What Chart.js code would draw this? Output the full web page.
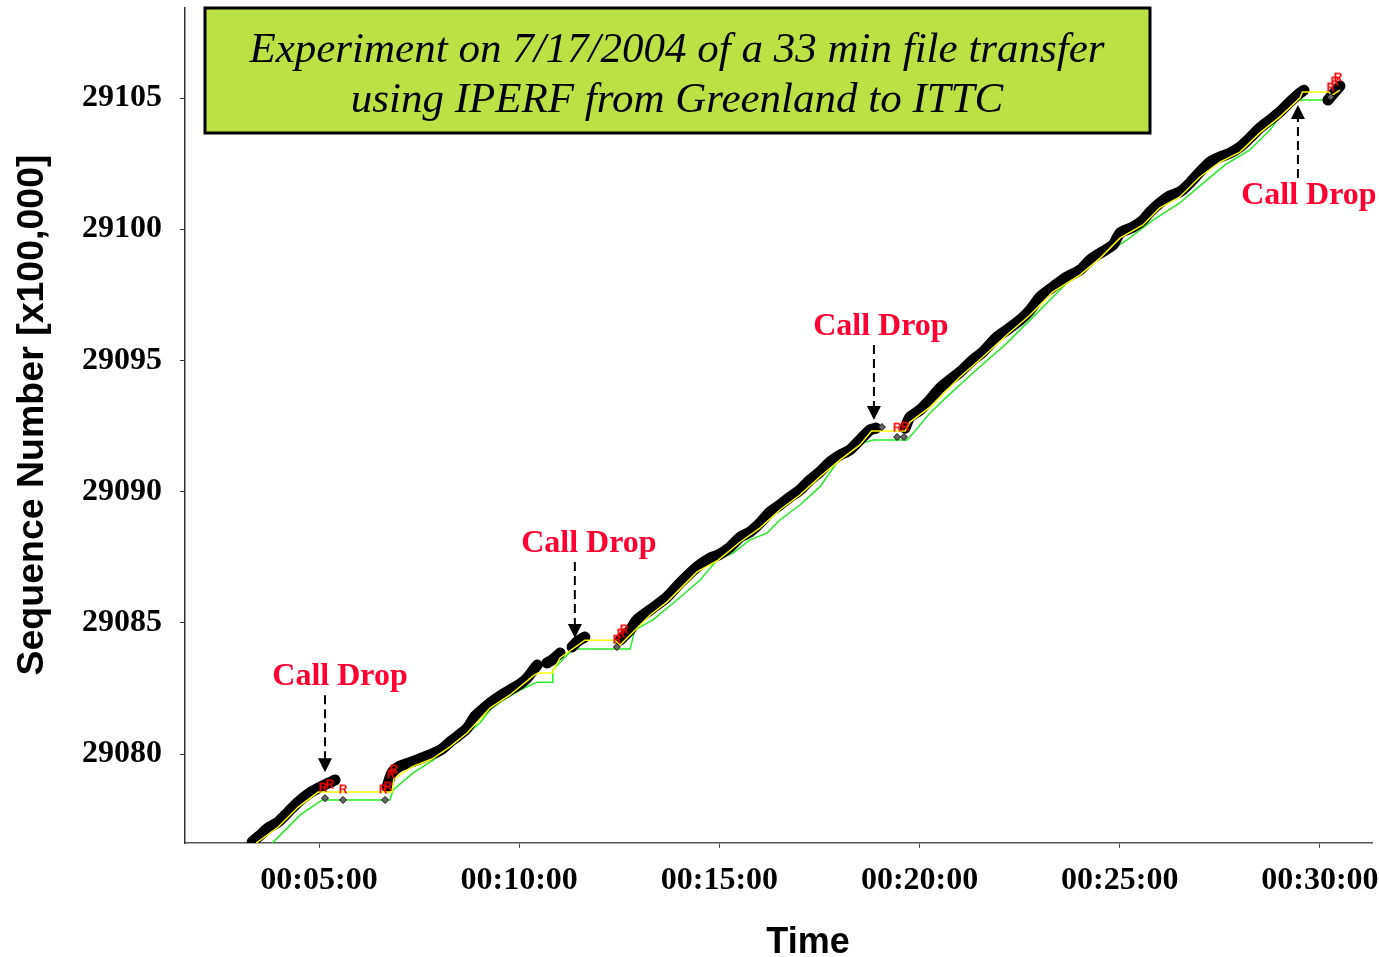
<!DOCTYPE html>
<html>
<head>
<meta charset="utf-8">
<script src="https://cdn.jsdelivr.net/npm/chart.js@4.4.0/dist/chart.umd.min.js"></script>
<style>
html, body { margin: 0; padding: 0; background: #fff; }
canvas { display: block; }
</style>
</head>
<body>
<canvas id="myChart" width="1379" height="957"></canvas>
<script>
// time in minutes, sequence number in units of 100,000
const sentTime = [3.33, 3.53, 3.73, 3.98, 4.23, 4.48, 4.73, 4.98, 5.23, 5.40, 6.0,
  6.70, 6.82, 7.02, 7.32, 7.57, 7.82, 8.07, 8.27, 8.47, 8.70, 8.90, 9.07, 9.27, 9.52, 9.77, 10.02, 10.20, 10.35, 10.45, 10.57,
  10.69, 10.85, 11.02, 11.17,
  11.32, 11.47, 11.64, 12.0,
  12.52, 12.77, 12.94, 13.27, 13.69, 14.02, 14.44, 14.77, 14.97, 15.27, 15.52, 15.76, 16.01, 16.26, 16.51, 16.76, 17.01, 17.26, 17.51, 17.76, 18.01, 18.26, 18.51, 18.76, 18.91, 19.3,
  19.64, 19.76, 20.01, 20.26, 20.51, 21.01, 21.33, 21.58, 21.93, 22.18, 22.51, 22.76, 23.01, 23.33, 23.68, 24.01, 24.26, 24.51, 24.83, 25.01, 25.33, 25.58, 25.76, 26.00, 26.25, 26.50, 26.75, 27.00, 27.25, 27.50, 27.75, 28.00, 28.25, 28.50, 28.75, 29.00, 29.25, 29.50, 29.60, 29.9,
  30.20, 30.35, 30.50];
const sentSeq = [29076.65, 29076.91, 29077.18, 29077.41, 29077.79, 29078.17, 29078.48, 29078.70, 29078.89, 29079.01, null,
  29078.74, 29079.28, 29079.54, 29079.70, 29079.85, 29080.00, 29080.19, 29080.46, 29080.69, 29080.99, 29081.45, 29081.68, 29081.94, 29082.21, 29082.44, 29082.67, 29082.90, 29083.20, 29083.39, null,
  29083.47, 29083.62, 29083.85, null,
  29084.08, 29084.31, 29084.46, null,
  29084.34, 29084.73, 29085.11, 29085.49, 29085.98, 29086.52, 29087.13, 29087.47, 29087.58, 29087.89, 29088.27, 29088.46, 29088.80, 29089.22, 29089.49, 29089.79, 29090.06, 29090.44, 29090.75, 29091.13, 29091.39, 29091.59, 29091.97, 29092.35, 29092.42, null,
  29092.42, 29092.84, 29093.11, 29093.50, 29093.95, 29094.56, 29095.02, 29095.32, 29095.89, 29096.16, 29096.54, 29096.92, 29097.42, 29097.80, 29098.18, 29098.45, 29098.83, 29099.09, 29099.40, 29099.86, 29100.08, 29100.35, 29100.66, 29101.00, 29101.27, 29101.42, 29101.76, 29102.18, 29102.56, 29102.75, 29102.90, 29103.13, 29103.48, 29103.86, 29104.16, 29104.47, 29104.85, 29105.19, 29105.30, null,
  29104.92, 29105.19, 29105.46];

const yellowTime = [3.43, 3.98, 4.48, 4.98, 6.82, 6.87, 7.32, 7.82, 8.27, 8.70, 9.27, 9.77, 10.35, 10.47, 10.82, 11.02, 11.64, 12.39, 12.52, 12.77, 13.27, 13.69, 14.44, 14.97, 15.52, 16.01, 16.51, 17.01, 17.51, 18.01, 18.51, 18.80, 19.64, 19.76, 20.26, 21.01, 21.58, 22.18, 22.76, 23.33, 24.01, 24.51, 25.01, 25.58, 26.00, 26.50, 27.00, 27.50, 28.00, 28.50, 29.00, 29.50, 29.56, 30.22, 30.30, 30.50];
const yellowSeq = [29076.61, 29077.22, 29077.98, 29078.55, 29078.55, 29079.05, 29079.51, 29079.81, 29080.27, 29080.80, 29081.75, 29082.25, 29082.98, 29083.09, 29083.09, 29083.66, 29084.34, 29084.34, 29084.15, 29084.54, 29085.30, 29085.79, 29086.94, 29087.39, 29088.08, 29088.61, 29089.30, 29089.87, 29090.56, 29091.20, 29091.78, 29092.31, 29092.31, 29092.65, 29093.22, 29094.37, 29095.13, 29095.97, 29096.73, 29097.61, 29098.26, 29098.90, 29099.67, 29100.16, 29100.81, 29101.23, 29101.99, 29102.56, 29102.94, 29103.67, 29104.28, 29105.00, 29105.23, 29105.23, 29105.10, 29105.30];

const ackTime = [3.83, 4.03, 4.28, 4.53, 4.78, 5.08, 6.77, 6.85, 7.35, 7.85, 8.20, 8.60, 9.02, 9.27, 9.60, 10.02, 10.45, 10.82, 10.84, 11.34, 12.77, 12.89, 13.34, 13.94, 14.52, 14.94, 15.34, 15.76, 16.19, 16.51, 17.01, 17.51, 17.94, 18.34, 18.59, 18.84, 19.69, 19.84, 20.26, 20.68, 21.33, 22.18, 22.83, 23.33, 23.83, 24.26, 24.68, 25.18, 25.83, 26.50, 27.00, 27.63, 28.25, 28.75, 29.08, 29.43, 30.25, 30.35, 30.50];
const ackSeq = [29076.61, 29076.91, 29077.29, 29077.68, 29077.94, 29078.25, 29078.25, 29078.63, 29079.28, 29079.77, 29080.15, 29080.65, 29081.18, 29081.68, 29082.06, 29082.44, 29082.74, 29082.74, 29083.20, 29084.00, 29084.00, 29084.73, 29085.11, 29085.87, 29086.63, 29087.39, 29087.66, 29088.16, 29088.42, 29088.92, 29089.49, 29090.18, 29091.12, 29091.59, 29091.85, 29091.97, 29091.97, 29092.23, 29093.00, 29093.61, 29094.52, 29095.66, 29096.65, 29097.42, 29098.18, 29098.71, 29099.09, 29099.59, 29100.35, 29101.00, 29101.65, 29102.45, 29103.02, 29103.78, 29104.43, 29104.92, 29104.92, 29105.11, 29105.38];

// retransmissions (R) and duplicate markers around each call drop
const retxTime = [5.10, 5.27, 5.60, 6.60, 6.72, 6.80, 6.87, 12.44, 12.54, 12.62, 19.44, 19.64, 30.27, 30.37, 30.45];
const retxSeq = [29078.70, 29078.82, 29078.63, 29078.63, 29078.74, 29079.20, 29079.39, 29084.34, 29084.57, 29084.73, 29092.42, 29092.46, 29105.38, 29105.61, 29105.76];
const dupTime = [5.15, 5.60, 6.65, 12.44, 19.06, 19.44, 19.61, 30.27];
const dupSeq = [29078.32, 29078.25, 29078.25, 29084.08, 29092.46, 29092.08, 29092.08, 29105.04];

// call drops: arrow tip positions
const dropTime = [5.15, 11.39, 18.86, 29.45];
const dropSeq = [29079.31, 29084.42, 29092.73, 29104.73];
const dropLabel = 'Call Drop';

const xTicks = [5, 10, 15, 20, 25, 30];
const yTicks = [29080, 29085, 29090, 29095, 29100, 29105];

const titleLines = ['Experiment on 7/17/2004 of a 33 min file transfer', 'using IPERF from Greenland to ITTC'];
const xTitle = 'Time';
const yTitle = 'Sequence Number [x100,000]';

function pts(xs, ys) {
  return xs.map((x, i) => ({ x: x, y: ys[i] }));
}

function hms(m) {
  const s = Math.round(m * 60);
  const h = Math.floor(s / 3600), mm = Math.floor((s % 3600) / 60), ss = s % 60;
  return [h, mm, ss].map(n => String(n).padStart(2, '0')).join(':');
}

// little red "R" used as point style
const rImg = document.createElement('canvas');
rImg.width = 12; rImg.height = 13;
(function () {
  const c = rImg.getContext('2d');
  c.fillStyle = '#ff0000';
  c.font = 'bold 12px "Liberation Sans"';
  c.textAlign = 'center';
  c.textBaseline = 'middle';
  c.fillText('R', 6, 7);
})();

const extras = {
  id: 'extras',
  afterDraw(chart) {
    const ctx = chart.ctx;
    const xs = chart.scales.x, ys = chart.scales.y;
    ctx.save();

    // call drop arrows
    const offs = [
      { dx: 15, len: 77, dir: 1 },
      { dx: 14, len: 76, dir: 1 },
      { dx: 7, len: 75, dir: 1 },
      { dx: 11, len: 73, dir: -1 }
    ];
    dropTime.forEach((t, i) => {
      const px = xs.getPixelForValue(t);
      const py = ys.getPixelForValue(dropSeq[i]);
      const o = offs[i];
      const head = 14;
      const far = py - o.dir * o.len;
      ctx.strokeStyle = '#000';
      ctx.lineWidth = 2;
      ctx.setLineDash([9, 5]);
      ctx.beginPath();
      ctx.moveTo(px, far);
      ctx.lineTo(px, py - o.dir * head);
      ctx.stroke();
      ctx.setLineDash([]);
      ctx.fillStyle = '#000';
      ctx.beginPath();
      ctx.moveTo(px, py);
      ctx.lineTo(px - 7, py - o.dir * head);
      ctx.lineTo(px + 7, py - o.dir * head);
      ctx.closePath();
      ctx.fill();
      ctx.fillStyle = '#ff0033';
      ctx.font = 'bold 32px "Liberation Serif"';
      ctx.textAlign = 'center';
      ctx.textBaseline = 'middle';
      ctx.fillText(dropLabel, px + o.dx, far - o.dir * 18);
    });

    // title box
    ctx.fillStyle = '#bce145';
    ctx.fillRect(205, 8, 945, 125);
    ctx.strokeStyle = '#000';
    ctx.lineWidth = 3;
    ctx.strokeRect(205, 8, 945, 125);
    ctx.fillStyle = '#000';
    ctx.font = 'italic 43px "Liberation Serif"';
    ctx.textAlign = 'center';
    ctx.textBaseline = 'alphabetic';
    ctx.fillText(titleLines[0], 677, 62);
    ctx.fillText(titleLines[1], 677, 112);

    // axis titles
    ctx.font = 'bold 36px "Liberation Sans"';
    ctx.fillText(xTitle, 808, 953);
    ctx.font = 'bold 37.5px "Liberation Sans"';
    ctx.translate(43, 415);
    ctx.rotate(-Math.PI / 2);
    ctx.fillText(yTitle, 0, 0);
    ctx.restore();
  }
};

const ctx = document.getElementById('myChart').getContext('2d');
const chart = new Chart(ctx, {
  type: 'line',
  data: {
    datasets: [
      {
        label: 'R',
        data: pts(retxTime, retxSeq),
        showLine: false,
        pointStyle: rImg,
        pointRadius: 6,
        order: 0
      },
      {
        label: 'dup',
        data: pts(dupTime, dupSeq),
        showLine: false,
        pointStyle: 'rectRot',
        pointRadius: 3.5,
        pointBackgroundColor: '#666',
        pointBorderColor: '#111',
        pointBorderWidth: 1,
        order: 1
      },
      {
        label: 'yellow',
        data: pts(yellowTime, yellowSeq),
        borderColor: '#ffff00',
        borderWidth: 1.5,
        pointRadius: 0,
        tension: 0,
        order: 2
      },
      {
        label: 'sent',
        data: pts(sentTime, sentSeq),
        borderColor: '#000',
        borderWidth: 11,
        borderCapStyle: 'round',
        borderJoinStyle: 'round',
        pointRadius: 0,
        tension: 0.25,
        order: 3
      },
      {
        label: 'ack',
        data: pts(ackTime, ackSeq),
        borderColor: '#22ee22',
        borderWidth: 1.5,
        pointRadius: 0,
        tension: 0,
        order: 4
      }
    ]
  },
  options: {
    responsive: false,
    animation: false,
    events: [],
    layout: { padding: { top: 8, right: 0, left: 0, bottom: 0 } },
    plugins: {
      legend: { display: false },
      tooltip: { enabled: false },
      title: { display: false }
    },
    scales: {
      x: {
        type: 'linear',
        min: 1.653,
        max: 31.30,
        afterFit: (s) => { s.height = 114; s.paddingLeft = 0; s.paddingRight = 0; },
        afterBuildTicks: (s) => { s.ticks = xTicks.map(v => ({ value: v })); },
        border: { display: true, color: '#555', width: 1.5 },
        grid: { drawOnChartArea: false, drawTicks: true, tickLength: 5, color: '#555' },
        ticks: {
          autoSkip: false,
          maxRotation: 0,
          padding: 14,
          color: '#000',
          font: { family: 'Liberation Serif', size: 32, weight: 'bold' },
          callback: (v) => hms(v)
        }
      },
      y: {
        type: 'linear',
        min: 29076.61,
        max: 29108.43,
        afterFit: (s) => { s.width = 185; s.paddingTop = 0; s.paddingBottom = 0; },
        afterBuildTicks: (s) => { s.ticks = yTicks.map(v => ({ value: v })); },
        border: { display: true, color: '#333', width: 1.5 },
        grid: { drawOnChartArea: false, drawTicks: true, tickLength: 5, color: '#333' },
        ticks: {
          padding: 18,
          color: '#000',
          font: { family: 'Liberation Serif', size: 32, weight: 'bold' },
          callback: (v) => String(v)
        }
      }
    }
  },
  plugins: [extras]
});
</script>
</body>
</html>
